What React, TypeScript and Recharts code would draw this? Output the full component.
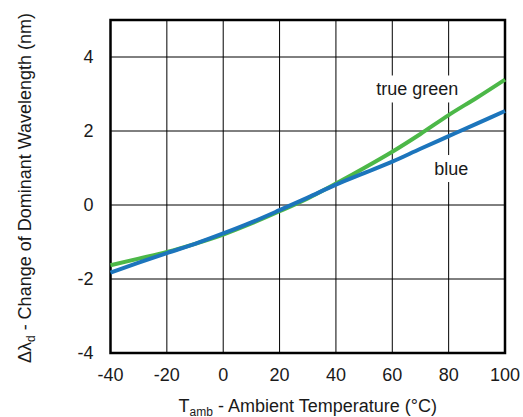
import { LineChart, Line, XAxis, YAxis, CartesianGrid, ReferenceArea, ReferenceDot, Label } from 'recharts'

const temps = [-40, -30, -20, -10, 0, 10, 20, 30, 40, 50, 60, 70, 80, 90, 100]
const trueGreen = [-1.63, -1.45, -1.27, -1.05, -0.8, -0.5, -0.17, 0.18, 0.58, 1.0, 1.44, 1.92, 2.43, 2.9, 3.39]
const blue = [-1.83, -1.56, -1.3, -1.05, -0.77, -0.47, -0.14, 0.2, 0.55, 0.86, 1.17, 1.52, 1.86, 2.2, 2.54]

const xTicks = [-40, -20, 0, 20, 40, 60, 80, 100]
const yTicks = [-4, -2, 0, 2, 4]

const data = temps.map((t, i) => ({ t, green: trueGreen[i], blue: blue[i] }))

const font = '"Liberation Sans", Arial, sans-serif'
const ink = '#1a1a1a'

// text tag with a white box behind it, so the grid is cut where the label sits
const tag = (text: string, w: number) => (props: any) => {
  const { x, y } = props.viewBox
  return (
    <g>
      <rect x={x - w / 2 - 4} y={y - 20} width={w + 8} height={27} fill="#fff" />
      <text x={x} y={y} textAnchor="middle" fontSize={18} fontFamily={font} fill={ink}>
        {text}
      </text>
    </g>
  )
}

const xTitle = (props: any) => {
  const { x, width } = props.viewBox
  return (
    <text x={x + width / 2} y={411.5} textAnchor="middle" fontSize={18} fontFamily={font} fill={ink}>
      T
      <tspan fontSize={12} dy={4}>amb</tspan>
      <tspan dy={-4}> - Ambient Temperature (°C)</tspan>
    </text>
  )
}

const yTitle = () => (
  <text
    x={31}
    y={188}
    transform="rotate(-90 31 188)"
    textAnchor="middle"
    fontSize={18}
    fontFamily={font}
    fill={ink}
  >
    Δλ
    <tspan fontSize={12} dy={4}>d</tspan>
    <tspan dy={-4}> - Change of Dominant Wavelength (nm)</tspan>
  </text>
)

export default function App() {
  return (
    <div style={{ position: 'absolute', left: 0, top: 0 }}>
      <LineChart width={523} height={417} data={data} margin={{ top: 20, right: 18, bottom: 0, left: 0 }}>
        <CartesianGrid stroke="#000" strokeWidth={1} horizontalValues={yTicks} verticalValues={xTicks} />
        <XAxis
          dataKey="t"
          type="number"
          domain={[-40, 100]}
          ticks={xTicks}
          height={64}
          axisLine={false}
          tickLine={false}
          tickMargin={9}
          tick={{ fontSize: 18, fontFamily: font, fill: ink }}
        >
          <Label content={xTitle} />
        </XAxis>
        <YAxis
          type="number"
          domain={[-4, 5]}
          ticks={yTicks}
          width={110.5}
          axisLine={false}
          tickLine={false}
          tickMargin={11}
          tick={{ fontSize: 18, fontFamily: font, fill: ink }}
        >
          <Label content={yTitle} />
        </YAxis>
        <ReferenceArea x1={-40} x2={100} y1={-4} y2={5} fill="none" stroke="#000" strokeWidth={2.5} />
        <ReferenceDot x={68.9} y={2.96} r={0} fill="none" stroke="none" label={tag('true green', 84)} />
        <ReferenceDot x={80.9} y={0.81} r={0} fill="none" stroke="none" label={tag('blue', 34)} />
        <Line type="monotone" dataKey="green" stroke="#4cb848" strokeWidth={4} dot={false} isAnimationActive={false} />
        <Line type="monotone" dataKey="blue" stroke="#1c75bc" strokeWidth={4} dot={false} isAnimationActive={false} />
      </LineChart>
    </div>
  )
}
